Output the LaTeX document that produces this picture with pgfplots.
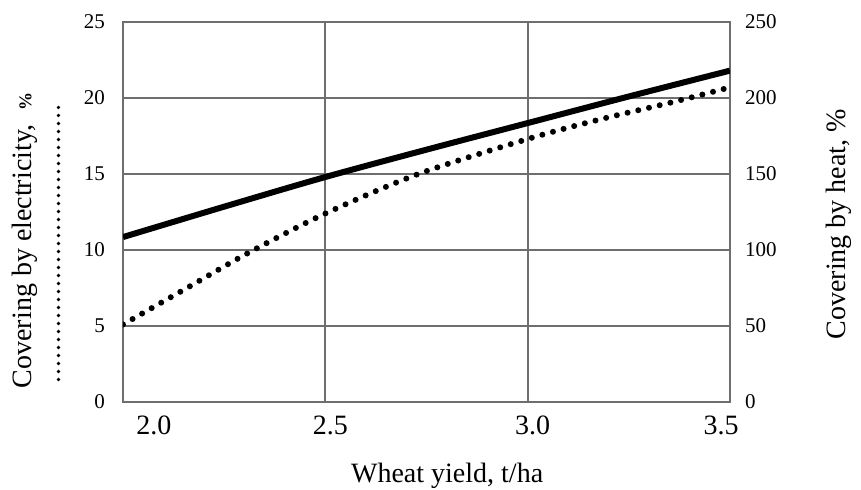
\documentclass[border=0pt]{standalone}
\usepackage{pgfplots}
\pgfplotsset{compat=1.18}
\usepackage{fontspec}
\setmainfont{Liberation Serif}
\definecolor{gridgray}{RGB}{110,110,110}
\begin{document}
\begin{tikzpicture}
\useasboundingbox (-61.5pt,-44pt) rectangle (369pt,201pt);
\begin{axis}[
  at={(0,0)}, anchor=south west,
  scale only axis, width=303.5pt, height=190pt,
  xmin=2, xmax=3.5, ymin=0, ymax=25,
  xtick={2,2.5,3,3.5},
  xticklabels={\hspace*{26pt}2.0, 2.5, 3.0, 3.5\hspace*{14pt}},
  ytick={0,5,10,15,20,25},
  grid=major,
  major grid style={gridgray, line width=0.9pt},
  axis line style={gridgray, line width=0.9pt},
  major tick length=0pt,
  yticklabel style={font=\fontsize{10.5}{12}\selectfont, xshift=-5.5pt},
  xticklabel style={font=\fontsize{14}{16}\selectfont, yshift=-3.5pt, xshift=2.5pt},
  /pgf/number format/assume math mode=true,
  xlabel={Wheat yield, t/ha},
  xlabel style={font=\fontsize{14}{17}\selectfont, at={(axis description cs:0.534,-0.213)}, anchor=base},
  ylabel={\begin{tabular}{@{}c@{}}Covering by electricity,\ \ \textbf{\small\%}\\[-2.5pt]\tikz\draw[line width=1.8pt, line cap=round, dash pattern=on 0pt off 4pt] (0,0)--(139pt,0);\end{tabular}},
  ylabel style={font=\fontsize{14}{17}\selectfont, inner sep=0pt, rotate=0, at={(axis description cs:-0.191,0.425)}, anchor=north},
]
\addplot[black, line width=3pt, line cap=round, dash pattern=on 0pt off 5.5pt, smooth] coordinates {
 (2.0,5.1) (2.158,7.5) (2.309,9.8) (2.5,12.4) (2.73,15.0) (3.0,17.3) (3.18,18.6) (3.354,19.7) (3.5,20.7)
};
\end{axis}
\begin{axis}[
  at={(0,0)}, anchor=south west,
  scale only axis, width=303.5pt, height=190pt,
  xmin=2, xmax=3.5, ymin=0, ymax=250,
  axis x line=none,
  axis y line*=right,
  ytick={0,50,100,150,200,250},
  axis line style={gridgray, line width=0.9pt, -},
  major tick length=0pt,
  yticklabel style={font=\fontsize{10.5}{12}\selectfont, xshift=4pt},
  /pgf/number format/assume math mode=true,
  ylabel={Covering by heat, \%},
  ylabel style={font=\fontsize{14}{17}\selectfont, rotate=0, at={(axis description cs:1.191,0.468)}, anchor=base},
]
\addplot[black, line width=3pt, smooth] coordinates {
 (2.0,108.5) (2.25,128.5) (2.5,148) (2.75,166) (3.0,183.5) (3.25,201) (3.5,218)
};
\end{axis}
\end{tikzpicture}
\end{document}
